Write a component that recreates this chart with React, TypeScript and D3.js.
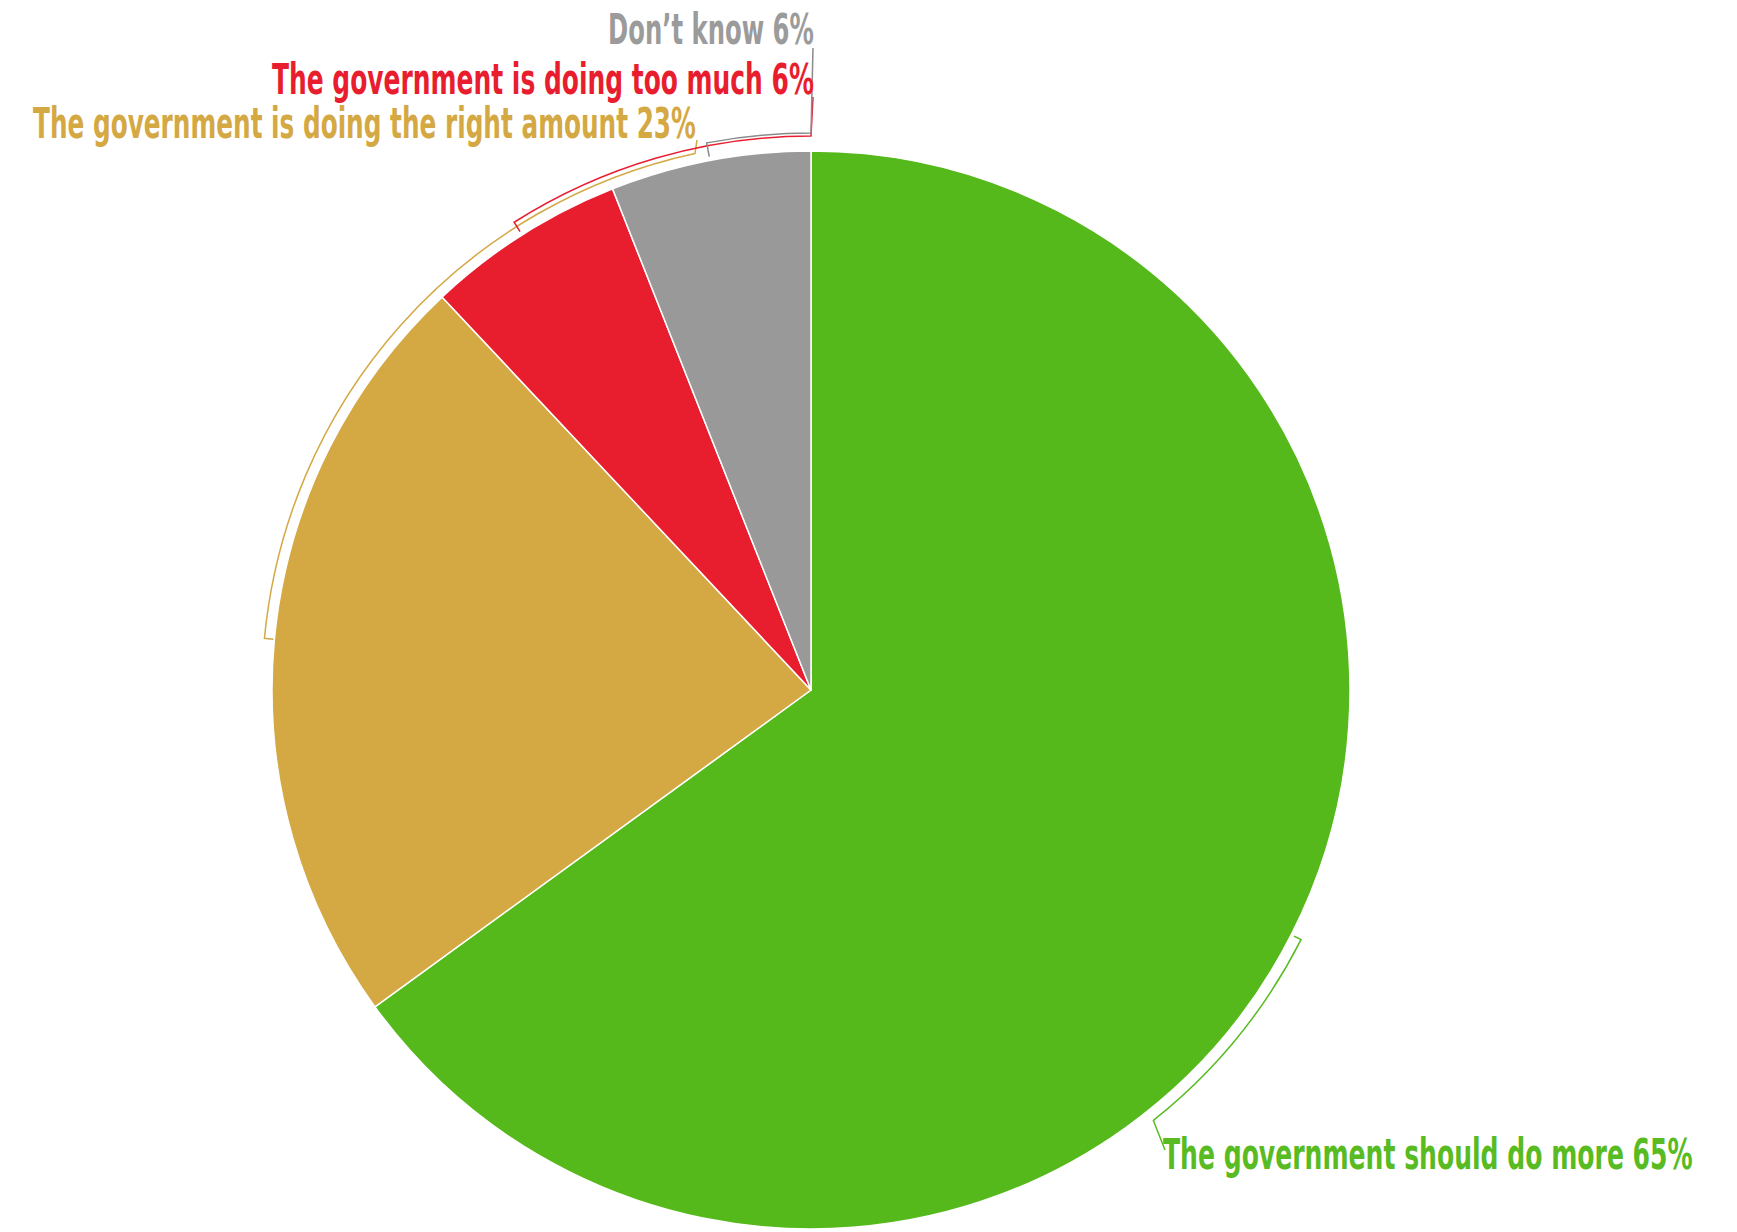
import React, { useLayoutEffect, useRef, useState } from "react";
import * as d3 from "d3";

// ---- data ----
const categories = [
  "The government should do more",
  "The government is doing the right amount",
  "The government is doing too much",
  "Don\u2019t know",
];
const values = [65, 23, 6, 6];

// ---- styles ----
const sliceColors = ["#55b91b", "#d4a843", "#e81e2f", "#999999"];
const textColors = ["#58bb22", "#d4a843", "#e81e2f", "#9b9b9b"];
const leaderColors = ["#58bb22", "#d4a843", "#e81e2f", "#8a8a8a"];

// ---- layout ----
const W = 1737;
const H = 1232;
const CX = 811;
const CY = 690;
const R = 539;
const DEG = Math.PI / 180;

const leaders = [
  { inner: 3, outer: 11, end: 141.5 * DEG, to: [1165, 1150] },
  { inner: 1, outer: 10, end: 347.8 * DEG, to: [697, 140] },
  { inner: 4, outer: 15, end: 360 * DEG, to: [813, 97] },
  { inner: 4, outer: 18, end: 360 * DEG, to: [813, 48] },
];
const labels = [
  { x: 1163, y: 1169, w: 530 },
  { x: 33, y: 138, w: 663 },
  { x: 272, y: 94, w: 542 },
  { x: 608, y: 44, w: 206 },
];

const pt = (a: number, r: number): [number, number] => [
  CX + r * Math.sin(a),
  CY - r * Math.cos(a),
];

export default function App() {
  const textRefs = useRef<(SVGTextElement | null)[]>([]);
  const [scales, setScales] = useState<number[] | null>(null);

  useLayoutEffect(() => {
    const s = labels.map((l, i) => {
      const el = textRefs.current[i];
      const natural = el ? el.getComputedTextLength() : l.w;
      return natural > 0 ? l.w / natural : 1;
    });
    setScales(s);
  }, []);

  const pie = d3
    .pie<number>()
    .sort(null)
    .startAngle(0)
    .endAngle(2 * Math.PI)(values);
  const arc = d3.arc<d3.PieArcDatum<number>>().innerRadius(0).outerRadius(R);

  return (
    <svg
      width={W}
      height={H}
      style={{ position: "absolute", left: 0, top: 0, background: "#fff" }}
    >
      <g transform={`translate(${CX},${CY})`}>
        {pie.map((d, i) => (
          <path
            key={i}
            d={arc(d) || ""}
            fill={sliceColors[i]}
            stroke="#ffffff"
            strokeWidth={1.5}
            strokeLinejoin="round"
          />
        ))}
      </g>
      {pie.map((d, i) => {
        const L = leaders[i];
        const mid = (d.startAngle + d.endAngle) / 2;
        const ro = R + L.outer;
        const p0 = pt(mid, R + L.inner);
        const p1 = pt(mid, ro);
        const p2 = pt(L.end, ro);
        const large = Math.abs(L.end - mid) > Math.PI ? 1 : 0;
        const sweep = L.end > mid ? 1 : 0;
        const path = `M${p0[0]},${p0[1]}L${p1[0]},${p1[1]}A${ro},${ro} 0 ${large} ${sweep} ${p2[0]},${p2[1]}L${L.to[0]},${L.to[1]}`;
        return (
          <path
            key={"l" + i}
            d={path}
            fill="none"
            stroke={leaderColors[i]}
            strokeWidth={1.5}
          />
        );
      })}
      {categories.map((c, i) => (
        <text
          key={"t" + i}
          ref={(el) => {
            textRefs.current[i] = el;
          }}
          transform={`translate(${labels[i].x},${labels[i].y}) scale(${
            scales ? scales[i] : 1
          },1)`}
          fill={textColors[i]}
          fontFamily="'Liberation Sans Narrow', 'DejaVu Sans Condensed', 'Roboto Condensed', sans-serif"
          fontWeight="bold"
          fontSize={42}
          visibility={scales ? "visible" : "hidden"}
        >
          {`${c} ${values[i]}%`}
        </text>
      ))}
    </svg>
  );
}
